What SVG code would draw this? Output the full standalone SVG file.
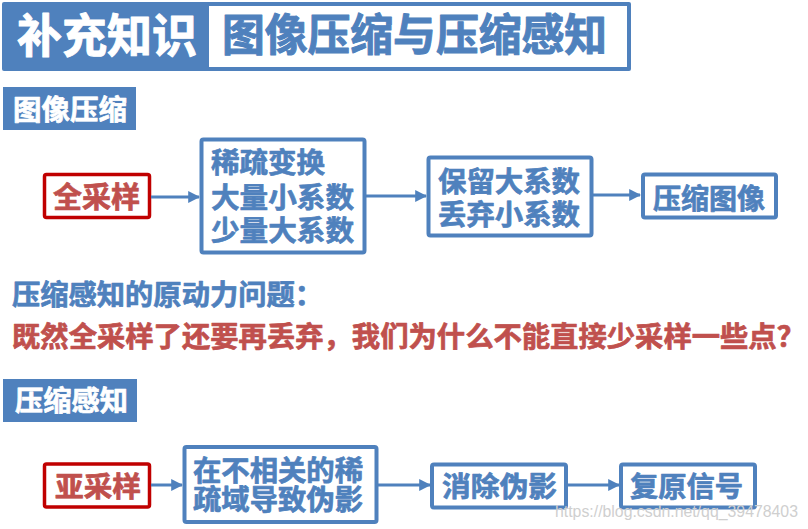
<svg xmlns="http://www.w3.org/2000/svg" width="808" height="529" viewBox="0 0 808 529">
<defs>
<style>
.cjk{font-family:"Noto Sans CJK SC","Noto Sans CJK JP",sans-serif;font-weight:700;stroke-width:0.7px;stroke-linejoin:round;}
.box{fill:#fff;stroke:#4f81bd;stroke-width:4;}
.rbox{fill:#fff;stroke:#c00000;stroke-width:3.5;}
.lab{fill:#4f81bd;}
.bt{fill:#4f81bd;stroke:#4f81bd;font-size:28px;}
.rt{fill:#c0504d;stroke:#c0504d;font-size:28px;}
.wt{fill:#fff;stroke:#fff;font-size:28px;}
.conn line{stroke:#4f81bd;stroke-width:3;marker-end:url(#ah);}
</style>
<marker id="ah" viewBox="0 0 10 10" refX="9" refY="5" markerWidth="4" markerHeight="4" orient="auto" markerUnits="strokeWidth">
<path d="M0,0 L10,5 L0,10 Z" fill="#4f81bd"/>
</marker>
</defs>
<rect width="808" height="529" fill="#fff"/>

<g id="header">
<rect x="2" y="2" width="629" height="69" rx="2" fill="#4f81bd"/>
<rect x="209" y="6" width="418" height="61" fill="#fff"/>
<text class="cjk wt" x="17" y="52" font-size="46" style="font-size:46px;stroke-width:1px" textLength="180" lengthAdjust="spacingAndGlyphs">补充知识</text>
<text class="cjk bt" x="222" y="51" style="font-size:44px;stroke-width:1px" textLength="385" lengthAdjust="spacingAndGlyphs">图像压缩与压缩感知</text>
</g>

<g id="label-image-compression">
<rect class="lab" x="3" y="87" width="133" height="43"/>
<text class="cjk wt" x="13" y="120" textLength="114" lengthAdjust="spacingAndGlyphs">图像压缩</text>
</g>

<g id="n-full-sampling">
<rect class="rbox" x="44.5" y="174.5" width="105" height="43" rx="2"/>
<text class="cjk rt" x="53" y="208" style="font-size:29px" textLength="87" lengthAdjust="spacingAndGlyphs">全采样</text>
</g>

<g id="n-sparse-transform">
<rect class="box" x="201.5" y="139.5" width="163" height="113" rx="2"/>
<text class="cjk bt" x="211" y="173" textLength="114" lengthAdjust="spacingAndGlyphs">稀疏变换</text>
<text class="cjk bt" x="211" y="208" textLength="143" lengthAdjust="spacingAndGlyphs">大量小系数</text>
<text class="cjk bt" x="211" y="241" textLength="143" lengthAdjust="spacingAndGlyphs">少量大系数</text>
</g>

<g id="n-keep-drop">
<rect class="box" x="428.5" y="157.5" width="163" height="78" rx="2"/>
<text class="cjk bt" x="438" y="192" textLength="142" lengthAdjust="spacingAndGlyphs">保留大系数</text>
<text class="cjk bt" x="438" y="225" textLength="142" lengthAdjust="spacingAndGlyphs">丢弃小系数</text>
</g>

<g id="n-compressed-image">
<rect class="box" x="643" y="174.5" width="133" height="43" rx="2"/>
<text class="cjk bt" x="653" y="209" textLength="112" lengthAdjust="spacingAndGlyphs">压缩图像</text>
</g>

<g id="question">
<text class="cjk bt" x="12" y="305" textLength="311" lengthAdjust="spacingAndGlyphs">压缩感知的原动力问题：</text>
<text class="cjk rt" x="12" y="347" textLength="793" lengthAdjust="spacingAndGlyphs">既然全采样了还要再丢弃，我们为什么不能直接少采样一些点？</text>
</g>

<g id="label-compressed-sensing">
<rect class="lab" x="3" y="379" width="134" height="43"/>
<text class="cjk wt" x="15" y="411" textLength="113" lengthAdjust="spacingAndGlyphs">压缩感知</text>
</g>

<g id="n-sub-sampling">
<rect class="rbox" x="44.5" y="464" width="105" height="43" rx="2"/>
<text class="cjk rt" x="55" y="497" textLength="86" lengthAdjust="spacingAndGlyphs">亚采样</text>
</g>

<g id="n-artifacts">
<rect class="box" x="184.5" y="447" width="192" height="75" rx="2"/>
<text class="cjk bt" x="193" y="481" textLength="170" lengthAdjust="spacingAndGlyphs">在不相关的稀</text>
<text class="cjk bt" x="193" y="510" textLength="170" lengthAdjust="spacingAndGlyphs">疏域导致伪影</text>
</g>

<g id="n-remove-artifacts">
<rect class="box" x="432" y="464.5" width="134" height="43" rx="2"/>
<text class="cjk bt" x="442" y="497" textLength="115" lengthAdjust="spacingAndGlyphs">消除伪影</text>
</g>

<g id="n-recover-signal">
<rect class="box" x="621" y="464.5" width="134" height="43" rx="2"/>
<text class="cjk bt" x="630" y="497" textLength="113" lengthAdjust="spacingAndGlyphs">复原信号</text>
</g>

<g id="connectors" class="conn">
<line x1="151" y1="197" x2="199" y2="197"/>
<line x1="366" y1="196" x2="426" y2="196"/>
<line x1="593" y1="195" x2="640" y2="195"/>
<line x1="151" y1="485" x2="182" y2="485"/>
<line x1="378" y1="485" x2="430" y2="485"/>
<line x1="568" y1="485" x2="619" y2="485"/>
</g>

<text x="555" y="517" font-family="Liberation Sans, Arial, sans-serif" font-size="17" fill="#cfcfcf" textLength="243" lengthAdjust="spacingAndGlyphs">https://blog.csdn.net/qq_39478403</text>
</svg>
